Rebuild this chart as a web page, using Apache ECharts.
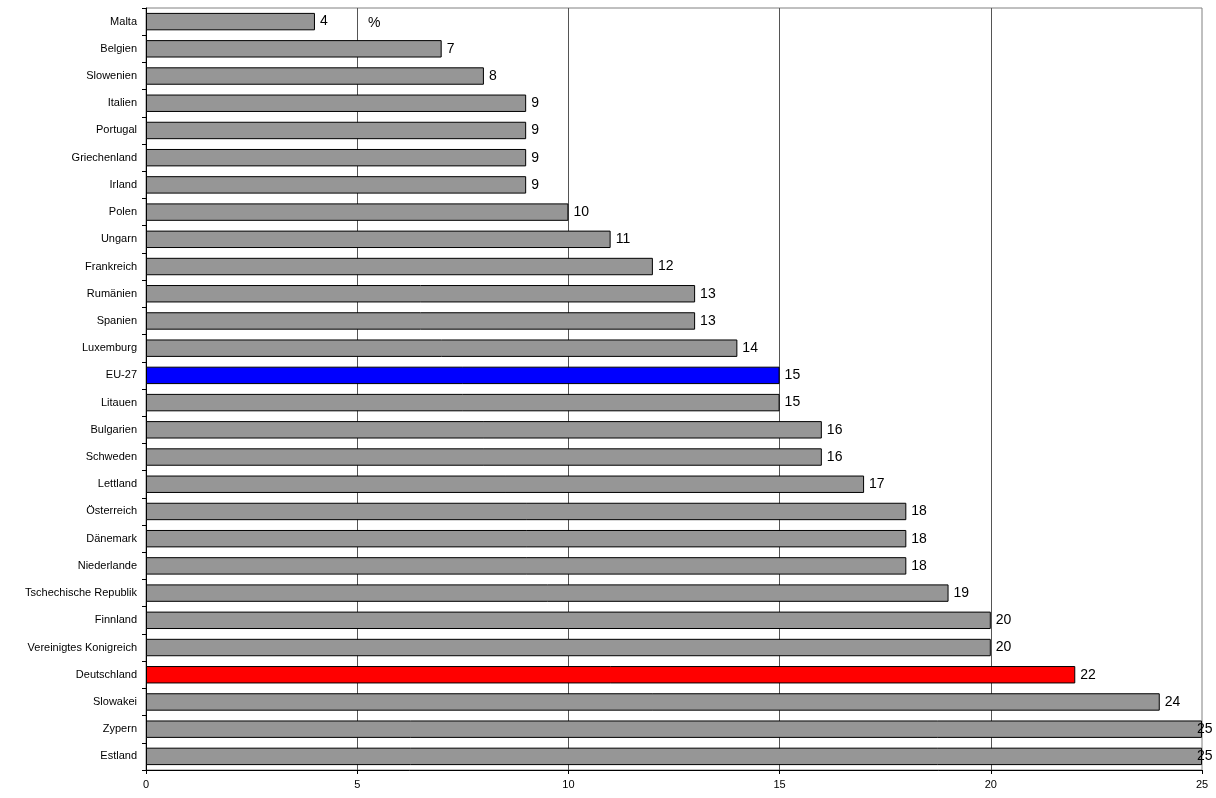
<!DOCTYPE html>
<html>
<head>
<meta charset="utf-8">
<script src="https://cdn.jsdelivr.net/npm/echarts@6/dist/echarts.min.js"></script>
<style>
  html, body { margin: 0; padding: 0; background: #fff; }
  #chart { width: 1216px; height: 798px; }
</style>
</head>
<body>
<div id="chart"></div>
<script>
// Länder von oben nach unten
const countries = [
  'Malta', 'Belgien', 'Slowenien', 'Italien', 'Portugal', 'Griechenland', 'Irland',
  'Polen', 'Ungarn', 'Frankreich', 'Rumänien', 'Spanien', 'Luxemburg', 'EU-27',
  'Litauen', 'Bulgarien', 'Schweden', 'Lettland', 'Österreich', 'Dänemark',
  'Niederlande', 'Tschechische Republik', 'Finnland', 'Vereinigtes Konigreich',
  'Deutschland', 'Slowakei', 'Zypern', 'Estland'
]
const values = [
  4, 7, 8, 9, 9, 9, 9,
  10, 11, 12, 13, 13, 14, 15,
  15, 16, 16, 17, 18, 18,
  18, 19, 20, 20,
  22, 24, 25, 25
]
const xTicks = [0, 5, 10, 15, 20, 25]

const highlight = { 'EU-27': '#0000FF', 'Deutschland': '#FF0000' }
const xMax = xTicks[xTicks.length - 1]

const myChart = echarts.init(document.getElementById('chart'))

const barData = values.map((v, i) => {
  const item = {
    value: v,
    itemStyle: { color: highlight[countries[i]] || '#969696' }
  }
  // Werte am rechten Rand rücken an den Balken heran
  if (v >= xMax) item.label = { distance: -5 }
  return item
})

myChart.setOption({
  animation: false,
  textStyle: { fontFamily: 'Liberation Sans, Arial, sans-serif' },
  grid: {
    left: 146, top: 8, right: 14, bottom: 28,
    show: true,
    borderColor: '#808080',
    borderWidth: 1
  },
  xAxis: {
    type: 'value',
    min: xTicks[0],
    max: xMax,
    interval: 5,
    axisLine: { show: true, lineStyle: { color: '#000', width: 1 } },
    axisTick: { show: true, length: 4, lineStyle: { color: '#000' } },
    axisLabel: { color: '#000', fontSize: 11, margin: 9 },
    splitLine: {
      show: true,
      showMinLine: false,
      showMaxLine: false,
      lineStyle: { color: '#555', width: 1 }
    }
  },
  yAxis: {
    type: 'category',
    inverse: true,
    data: countries,
    axisLine: { show: true, lineStyle: { color: '#000', width: 1 } },
    axisTick: { show: true, length: 4, lineStyle: { color: '#000' } },
    axisLabel: { color: '#000', fontSize: 11, margin: 9 }
  },
  graphic: [{
    type: 'text',
    left: 368,
    top: 16,
    style: { text: '%', fontSize: 14, fill: '#000', fontFamily: 'Liberation Sans, Arial, sans-serif' }
  }],
  series: [{
    type: 'bar',
    data: barData,
    barCategoryGap: '36%',
    itemStyle: { borderColor: '#000', borderWidth: 1 },
    label: {
      show: true,
      position: 'right',
      distance: 5,
      color: '#000',
      fontSize: 14
    }
  }]
})
</script>
</body>
</html>
